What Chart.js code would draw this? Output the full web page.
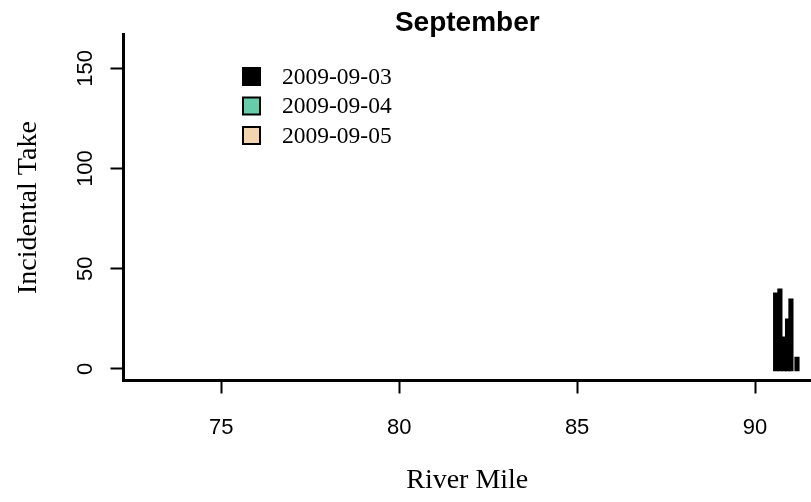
<!DOCTYPE html>
<html>
<head>
<meta charset="utf-8">
<script src="https://cdn.jsdelivr.net/npm/chart.js@4/dist/chart.umd.min.js"></script>
<style>
  html, body { margin: 0; padding: 0; background: #ffffff; }
  #wrap { width: 811px; height: 502px; }
</style>
</head>
<body>
<div id="wrap"><canvas id="chart" width="811" height="502"></canvas></div>
<script>
// Survey dates shown in the legend and their fill colours
const surveyDates = ['2009-09-03', '2009-09-04', '2009-09-05'];
const dateColors = ['#000000', '#66CDAA', '#F2D4AE'];

// Incidental take by river mile, 3 September 2009
const riverMile0903 = [90.58, 90.70, 90.815, 90.915, 91.01, 91.18];
const take0903 = [38, 40, 16, 25, 35, 6];

// No take recorded on the following days
const riverMile0904 = [];
const take0904 = [];
const riverMile0905 = [];
const take0905 = [];

// Axis ticks
const xTickValues = [75, 80, 85, 90];
const yTickValues = [0, 50, 100, 150];

const pairs = (xs, ys) => xs.map((x, i) => ({ x: x, y: ys[i] }));

const seriesX = [riverMile0903, riverMile0904, riverMile0905];
const seriesY = [take0903, take0904, take0905];

const datasets = surveyDates.map((d, i) => ({
  label: d,
  data: pairs(seriesX[i], seriesY[i]),
  backgroundColor: dateColors[i],
  borderColor: '#000000',
  borderWidth: 0,
  barThickness: 4.5,
  grouped: false,
  base: -1
}));

// Legend with filled squares, drawn in the upper left of the plot
const squareLegend = {
  id: 'squareLegend',
  afterDraw(chart) {
    const ctx = chart.ctx;
    ctx.save();
    ctx.font = '23.5px "Liberation Serif", "Times New Roman", serif';
    ctx.textAlign = 'left';
    ctx.textBaseline = 'middle';
    chart.data.datasets.forEach((ds, i) => {
      const cy = 76.5 + i * 29.5;
      ctx.fillStyle = ds.backgroundColor;
      ctx.fillRect(243, cy - 8.5, 17, 17);
      ctx.lineWidth = 2;
      ctx.strokeStyle = '#000000';
      ctx.strokeRect(243, cy - 8.5, 17, 17);
      ctx.fillStyle = '#000000';
      ctx.fillText(ds.label, 282, cy + 1);
    });
    ctx.restore();
  }
};

// Y tick labels set parallel to the axis
const rotatedYTicks = {
  id: 'rotatedYTicks',
  afterDraw(chart) {
    const scale = chart.scales.y;
    const ctx = chart.ctx;
    ctx.save();
    ctx.font = '22px "Liberation Sans", Arial, sans-serif';
    ctx.fillStyle = '#000000';
    ctx.textAlign = 'center';
    ctx.textBaseline = 'alphabetic';
    scale.ticks.forEach(t => {
      const py = scale.getPixelForValue(t.value);
      ctx.save();
      ctx.translate(92, py);
      ctx.rotate(-Math.PI / 2);
      ctx.fillText(String(t.value), 0, 0);
      ctx.restore();
    });
    ctx.restore();
  }
};

new Chart(document.getElementById('chart'), {
  type: 'bar',
  data: { datasets: datasets },
  options: {
    responsive: false,
    animation: false,
    devicePixelRatio: 1,
    layout: { padding: 0 },
    plugins: {
      legend: { display: false },
      tooltip: { enabled: false },
      title: {
        display: true,
        text: 'September',
        fullSize: false,
        color: '#000000',
        font: { family: '"Liberation Sans", Arial, sans-serif', size: 28, weight: 'bold', lineHeight: 0.85 },
        padding: { top: 11, bottom: 0 }
      }
    },
    scales: {
      x: {
        type: 'linear',
        offset: false,
        min: 72.25,
        max: 91.574,
        afterFit(s) { s.height = 121.5; },
        afterBuildTicks(s) { s.ticks = xTickValues.map(v => ({ value: v })); },
        ticks: {
          color: '#000000',
          font: { family: '"Liberation Sans", Arial, sans-serif', size: 22 },
          padding: 21,
          maxRotation: 0,
          autoSkip: false
        },
        grid: {
          offset: false,
          drawOnChartArea: false,
          drawTicks: true,
          tickLength: 13,
          tickColor: '#000000',
          tickWidth: 2
        },
        border: { display: true, color: '#000000', width: 3 },
        title: {
          display: true,
          text: 'River Mile',
          color: '#000000',
          font: { family: '"Liberation Serif", "Times New Roman", serif', size: 28 },
          padding: { top: 0, bottom: 5 }
        }
      },
      y: {
        type: 'linear',
        min: -5.74,
        max: 166.7,
        afterFit(s) { s.width = 123.5; },
        afterBuildTicks(s) { s.ticks = yTickValues.map(v => ({ value: v })); },
        ticks: { display: false },
        grid: {
          drawOnChartArea: false,
          drawTicks: true,
          tickLength: 13,
          tickColor: '#000000',
          tickWidth: 2
        },
        border: { display: true, color: '#000000', width: 3 },
        title: {
          display: true,
          text: 'Incidental Take',
          color: '#000000',
          font: { family: '"Liberation Serif", "Times New Roman", serif', size: 28 },
          padding: { top: 12, bottom: 0 }
        }
      }
    }
  },
  plugins: [squareLegend, rotatedYTicks]
});
</script>
</body>
</html>
